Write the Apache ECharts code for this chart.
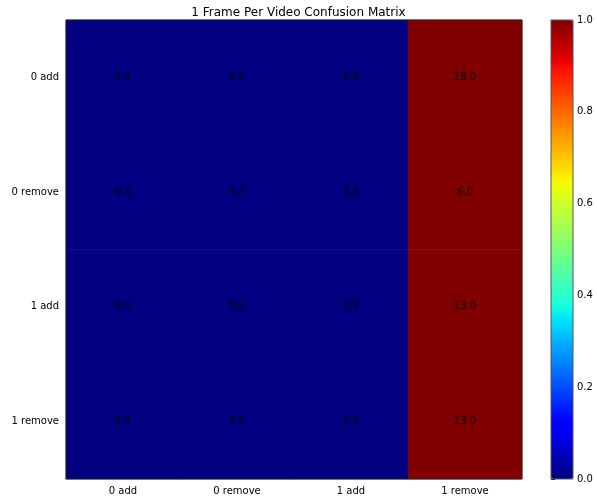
<!DOCTYPE html>
<html>
<head>
<meta charset="utf-8">
<script src="https://cdn.jsdelivr.net/npm/echarts@6/dist/echarts.min.js"></script>
<style>html,body{margin:0;padding:0;background:#fff}#c{width:597px;height:498px}</style>
</head>
<body>
<div id="c"></div>
<script>
const xCategories = ['0 add', '0 remove', '1 add', '1 remove'];
const yCategories = ['0 add', '0 remove', '1 add', '1 remove'];
const row0 = [0, 0, 0, 18];
const row1 = [0, 0, 0, 6];
const row2 = [0, 0, 0, 13];
const row3 = [0, 0, 0, 13];
const colorbarTicks = [0, 0.2, 0.4, 0.6, 0.8, 1.0];
const rows = [row0, row1, row2, row3];

function interp(pts, t) {
  for (let i = 1; i < pts.length; i++) {
    if (t <= pts[i][0]) {
      const a = pts[i - 1], b = pts[i];
      return a[1] + (b[1] - a[1]) * (t - a[0]) / (b[0] - a[0]);
    }
  }
  return pts[pts.length - 1][1];
}
const R = [[0,0],[0.35,0],[0.66,1],[0.89,1],[1,0.5]];
const G = [[0,0],[0.125,0],[0.375,1],[0.64,1],[0.91,0],[1,0]];
const B = [[0,0.5],[0.11,1],[0.34,1],[0.65,0],[1,0]];
const jet = [];
for (let i = 0; i <= 200; i++) {
  const t = i / 200;
  const c = [R, G, B].map(p => Math.round(255 * interp(p, t)));
  jet.push('rgb(' + c.join(',') + ')');
}

const data = [];
rows.forEach((r, yi) => {
  const s = r.reduce((a, b) => a + b, 0);
  r.forEach((v, xi) => {
    data.push({ value: [xi, yi, s ? v / s : 0], count: v });
  });
});

const font = 'DejaVu Sans';
const chart = echarts.init(document.getElementById('c'));
chart.setOption({
  animation: false,
  title: {
    text: '1 Frame Per Video Confusion Matrix',
    left: 'center', top: 2,
    textStyle: { fontFamily: font, fontSize: 12, fontWeight: 'normal', color: '#000' }
  },
  grid: [
    { left: 66, top: 20, width: 456, height: 459, show: true, borderColor: '#222', borderWidth: 1, z: 10, backgroundColor: 'transparent' },
    { left: 551, top: 20, width: 22, height: 459, show: true, borderColor: '#555', borderWidth: 1, z: 10, backgroundColor: 'transparent' }
  ],
  xAxis: [
    {
      type: 'category', data: xCategories, gridIndex: 0,
      axisLine: { show: false },
      axisTick: { alignWithLabel: true, length: 4, lineStyle: { color: '#000' } },
      axisLabel: { fontFamily: font, fontSize: 10, color: '#000', margin: 7 },
      splitLine: { show: false }
    },
    { type: 'value', gridIndex: 1, show: false, min: 0, max: 1 }
  ],
  yAxis: [
    {
      type: 'category', data: yCategories, gridIndex: 0, inverse: true,
      axisLine: { show: false },
      axisTick: { alignWithLabel: true, length: 4, lineStyle: { color: '#000' } },
      axisLabel: { fontFamily: font, fontSize: 10, color: '#000', margin: 7 },
      splitLine: { show: false }
    },
    {
      type: 'value', gridIndex: 1, position: 'right', min: 0, max: 1, interval: 0.2,
      axisLine: { show: false },
      axisTick: { show: true, length: 4, lineStyle: { color: '#000' } },
      axisLabel: { fontFamily: font, fontSize: 10, color: '#000', margin: 4,
        formatter: v => colorbarTicks.some(t => Math.abs(t - v) < 1e-9) ? v.toFixed(1) : '' },
      splitLine: { show: false }
    }
  ],
  visualMap: {
    type: 'continuous', min: 0, max: 1, seriesIndex: 0,
    calculable: false, show: true, text: null, showLabel: false,
    left: 551, top: 20, itemWidth: 22, itemHeight: 459, padding: 0,
    inRange: { color: jet },
    textStyle: { color: 'transparent' }
  },
  series: [{
    type: 'heatmap', xAxisIndex: 0, yAxisIndex: 0,
    data: data,
    label: {
      show: true, fontFamily: font, fontSize: 10, color: '#000',
      formatter: p => p.data.count.toFixed(1)
    },
    itemStyle: { borderWidth: 0 }
  }]
});
</script>
</body>
</html>
